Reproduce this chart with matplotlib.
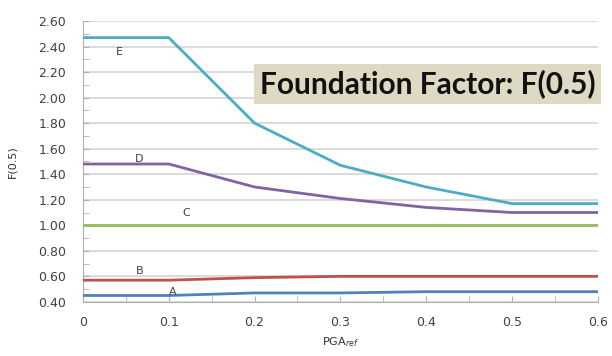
import numpy as np
import matplotlib
matplotlib.use("Agg")
import matplotlib.pyplot as plt
from matplotlib.ticker import MultipleLocator

# foundation factor F(0.5) per site class against PGA_ref
pga = [0.0, 0.1, 0.2, 0.3, 0.4, 0.5, 0.6]
site_a = [0.45, 0.45, 0.47, 0.47, 0.48, 0.48, 0.48]
site_b = [0.57, 0.57, 0.59, 0.60, 0.60, 0.60, 0.60]
site_c = [1.00, 1.00, 1.00, 1.00, 1.00, 1.00, 1.00]
site_d = [1.48, 1.48, 1.30, 1.21, 1.14, 1.10, 1.10]
site_e = [2.47, 2.47, 1.80, 1.47, 1.30, 1.17, 1.17]

classes = ["A", "B", "C", "D", "E"]
colors = ["#4f81bd", "#c0504d", "#9bbb59", "#8064a2", "#4bacc6"]
label_x = [0.105, 0.066, 0.12, 0.066, 0.043]
label_y = [0.48, 0.64, 1.10, 1.52, 2.36]

x_ticks = [0.0, 0.1, 0.2, 0.3, 0.4, 0.5, 0.6]
x_ticklabels = ["0", "0.1", "0.2", "0.3", "0.4", "0.5", "0.6"]
y_ticks = [0.4, 0.6, 0.8, 1.0, 1.2, 1.4, 1.6, 1.8, 2.0, 2.2, 2.4, 2.6]

fig = plt.figure(figsize=(6.12, 3.56), dpi=100)
ax = fig.add_axes([0.1356, 0.152, 0.841, 0.789])

for vals, col in zip([site_a, site_b, site_c, site_d, site_e], colors):
    ax.plot(pga, vals, color=col, lw=2.0, zorder=3)

for name, lx, ly in zip(classes, label_x, label_y):
    ax.text(lx, ly, name, fontsize=8, color="#404040", ha="center", va="center", zorder=4)

ax.set_xlim(0, 0.6)
ax.set_ylim(0.4, 2.6)
ax.set_xticks(x_ticks)
ax.set_xticklabels(x_ticklabels)
ax.set_yticks(y_ticks)
ax.set_yticklabels(["%.2f" % v for v in y_ticks])
ax.xaxis.set_minor_locator(MultipleLocator(0.05))
ax.yaxis.set_minor_locator(MultipleLocator(0.1))
ax.grid(axis="y", which="major", color="#d4d4d4", lw=1.2, zorder=0)

for s in ["top", "right"]:
    ax.spines[s].set_visible(False)
for s in ["left", "bottom"]:
    ax.spines[s].set_color("#b0b0b0")
ax.tick_params(which="both", direction="in", color="#b0b0b0", labelsize=9, labelcolor="#404040")
ax.tick_params(which="both", length=4)
ax.tick_params(axis="y", pad=12)
ax.tick_params(axis="x", pad=10)

ax.set_ylabel("F(0.5)", fontsize=8, color="#303030")
ax.set_xlabel("PGA$_{ref}$", fontsize=8, color="#303030")
ax.yaxis.set_label_coords(-0.127, 0.5)
ax.xaxis.set_label_coords(0.5, -0.12)

fig.text(0.6985, 0.764, "Foundation Factor: F(0.5)", fontsize=21.5, fontweight="bold",
         family="Lato", color="#111111", ha="center", va="center",
         bbox=dict(boxstyle="square,pad=0.18", fc="#ddd9c3", ec="none"))

fig.savefig("out.png", dpi=100)
